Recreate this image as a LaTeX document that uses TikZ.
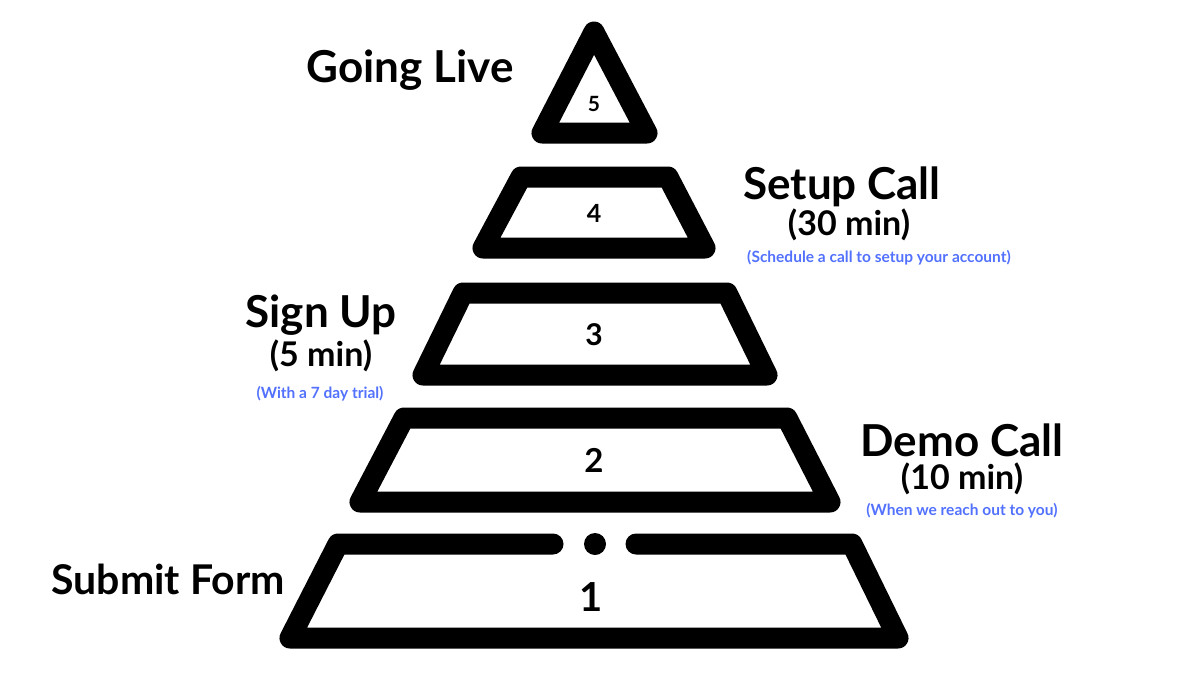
\documentclass[tikz,border=0pt]{standalone}
\usepackage{fontspec}
\setmainfont{Lato}
\usetikzlibrary{positioning}
\definecolor{noteblue}{HTML}{5271FF}

\begin{document}
\begin{tikzpicture}[
  x=1pt,y=-1pt,
  node distance=0pt and 0pt,
  level/.style={draw,line width=21pt,line join=round,line cap=round},
  title/.style={font=\fontsize{44}{44}\selectfont\bfseries,inner sep=0pt,anchor=base},
  sub/.style={font=\fontsize{34}{34}\selectfont\bfseries,inner sep=0pt,anchor=base},
  note/.style={font=\fontsize{15.5}{15.5}\selectfont\bfseries,text=noteblue,inner sep=0pt,anchor=base},
  num/.style={font=\bfseries,inner sep=0pt}
  ]
  \useasboundingbox (0,0) rectangle (1200,675);

  % levels of the pyramid
  \draw[level] (594,32) -- (647,133) -- (542,133) -- cycle;
  \draw[level] (521,177) -- (668,177) -- (705,248) -- (483,248) -- cycle;
  \draw[level] (463,293) -- (727,293) -- (767,375) -- (423,375) -- cycle;
  \draw[level] (404,418) -- (787,418) -- (830,502) -- (360,502) -- cycle;
  \draw[level] (553,544) -- (338,544) -- (290,638) -- (898,638) -- (852,544) -- (636,544);
  \fill (595,544) circle (11);

  % numbers
  \node[num,font=\fontsize{21}{21}\selectfont\bfseries] (n5) at (594,104) {5};
  \node[num,font=\fontsize{25}{25}\selectfont\bfseries] (n4) at (594,213) {4};
  \node[num,font=\fontsize{30}{30}\selectfont\bfseries] (n3) at (594,335) {3};
  \node[num,font=\fontsize{33}{33}\selectfont\bfseries] (n2) at (594,460) {2};
  \node[num,font=\fontsize{40}{40}\selectfont\bfseries] (n1) at (591,597) {1};

  % labels
  \node[title] (live) at (410,82) {Going Live};

  \node[title] (setup) at (842,199) {Setup Call};
  \node[sub] (setupt) at (849,235) {(30 min)};
  \node[note] (setupn) at (879,262) {(Schedule a call to setup your account)};

  \node[title] (sign) at (321,327) {Sign Up};
  \node[sub] (signt) at (321,366) {(5 min)};
  \node[note] (signn) at (320,398) {(With a 7 day trial)};

  \node[title] (demo) at (962,456) {Demo Call};
  \node[sub] (demot) at (962,489) {(10 min)};
  \node[note] (demon) at (962,515) {(When we reach out to you)};

  \node[title,font=\fontsize{41}{41}\selectfont\bfseries] (form) at (168,594) {Submit Form};
\end{tikzpicture}
\end{document}
